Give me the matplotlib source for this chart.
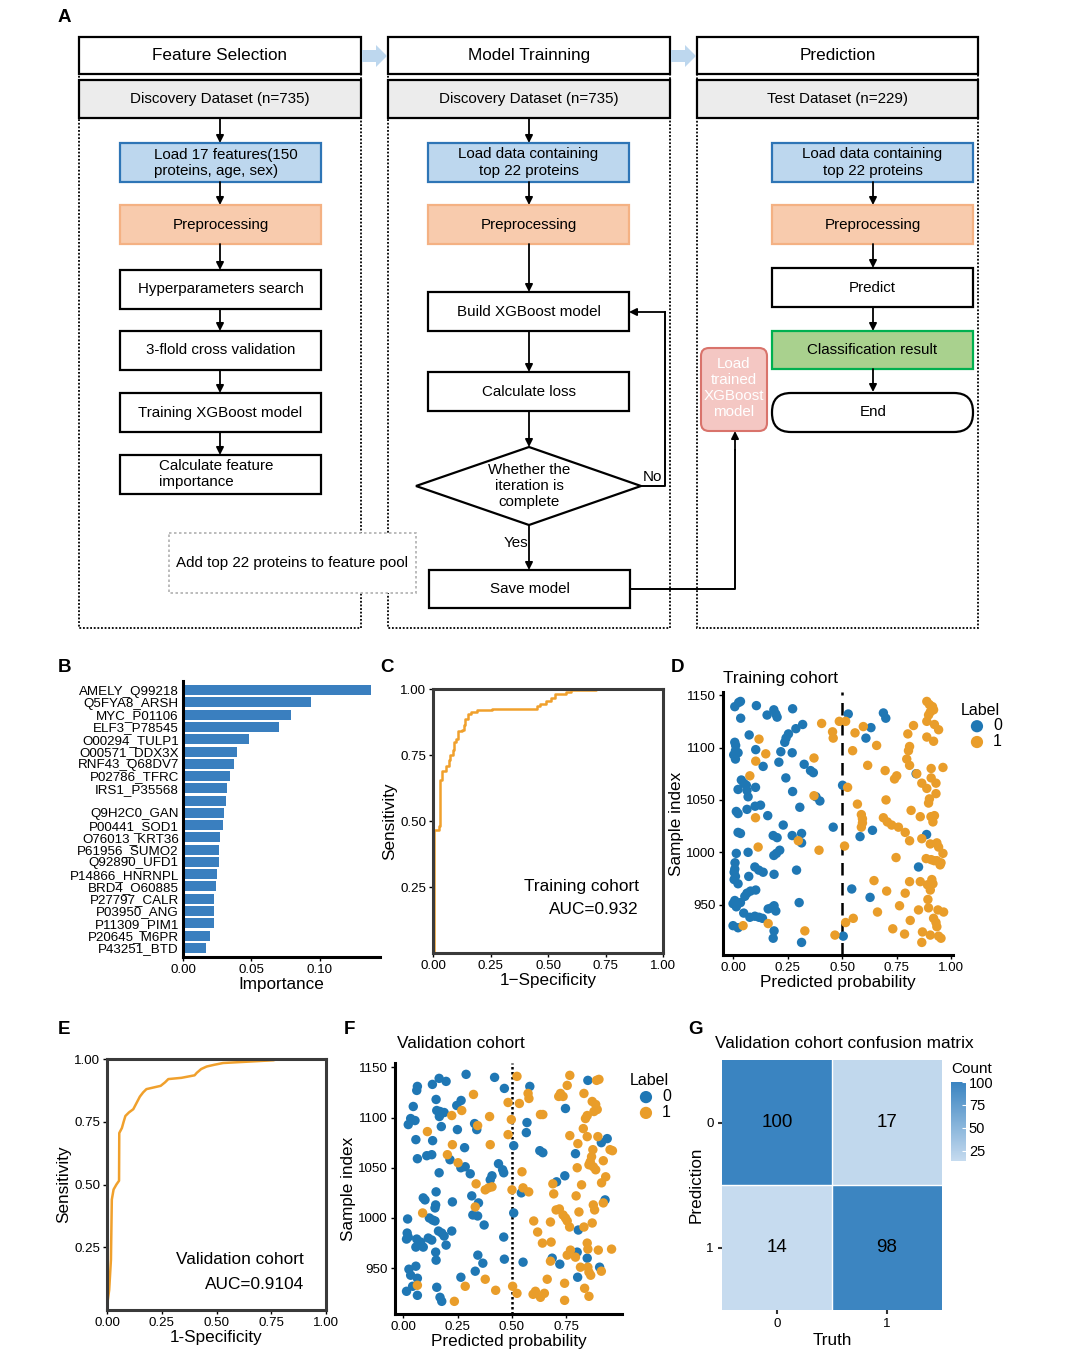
import matplotlib.pyplot as plt
from matplotlib.patches import Rectangle, Polygon, FancyBboxPatch
from matplotlib.colors import LinearSegmentedColormap
import numpy as np

plt.rcParams['font.family'] = ['Liberation Sans', 'DejaVu Sans']

## ---- data ----
# B: feature importance
features = ['AMELY_Q99218', 'Q5FYA8_ARSH', 'MYC_P01106', 'ELF3_P78545', 'O00294_TULP1',
            'O00571_DDX3X', 'RNF43_Q68DV7', 'P02786_TFRC', 'IRS1_P35568', '',
            'Q9H2C0_GAN', 'P00441_SOD1', 'O76013_KRT36', 'P61956_SUMO2', 'Q92890_UFD1',
            'P14866_HNRNPL', 'BRD4_O60885', 'P27797_CALR', 'P03950_ANG', 'P11309_PIM1',
            'P20645_M6PR', 'P43251_BTD']
importance = [0.137, 0.0934, 0.0791, 0.0698, 0.0479, 0.0394, 0.0375, 0.0345, 0.0324, 0.0316,
              0.0297, 0.0292, 0.0273, 0.0265, 0.0263, 0.0246, 0.0238, 0.0229, 0.0229, 0.0229,
              0.0197, 0.0165]

# C / E: ROC curves
train_fpr = [0, 0.003, 0.025, 0.03, 0.04, 0.055, 0.07, 0.075, 0.085, 0.09, 0.1, 0.11, 0.125,
             0.135, 0.14, 0.15, 0.165, 0.19, 0.255, 0.45, 0.465, 0.49, 0.515, 0.53, 0.58, 0.6,
             0.71, 1.0]
train_tpr = [0, 0.465, 0.48, 0.655, 0.69, 0.71, 0.73, 0.75, 0.77, 0.80, 0.81, 0.84, 0.845,
             0.865, 0.885, 0.905, 0.912, 0.92, 0.926, 0.935, 0.945, 0.955, 0.965, 0.98, 0.988,
             0.995, 1.0, 1.0]
valid_fpr = [0, 0.003, 0.01, 0.018, 0.022, 0.03, 0.043, 0.055, 0.056, 0.068, 0.076, 0.084,
             0.1, 0.12, 0.15, 0.165, 0.18, 0.245, 0.265, 0.28, 0.34, 0.4, 0.41, 0.43, 0.455,
             0.49, 0.53, 0.76, 0.78, 1.0]
valid_tpr = [0, 0.035, 0.08, 0.2, 0.44, 0.48, 0.5, 0.515, 0.705, 0.725, 0.75, 0.773, 0.787,
             0.8, 0.85, 0.867, 0.88, 0.893, 0.907, 0.92, 0.925, 0.935, 0.945, 0.96, 0.97,
             0.977, 0.984, 0.995, 1.0, 1.0]

# D: training cohort predicted probabilities (label 0 / label 1)
tr0_p = [0.008, 0.026, 0.034, 0.035, 0.107, 0.156, 0.187, 0.196, 0.202, 0.273,
         0.319, 0.288, 0.074, 0.528, 0.689, 0.700, 0.632, 0.609, 0.254, 0.243,
         0.237, 0.219, 0.008, 0.012, 0.011, 0.003, 0.011, 0.023, 0.104, 0.210,
         0.138, 0.271, 0.326, 0.355, 0.368, 0.242, 0.038, 0.049, 0.061, 0.023,
         0.064, 0.103, 0.069, 0.502, 0.273, 0.380, 0.398, 0.306, 0.015, 0.023,
         0.064, 0.101, 0.126, 0.159, 0.459, 0.230, 0.271, 0.184, 0.202, 0.314,
         0.314, 0.023, 0.034, 0.582, 0.639, 0.839, 0.887, 0.850, 0.015, 0.069,
         0.214, 0.199, 0.187, 0.009, 0.008, 0.005, 0.011, 0.005, 0.023, 0.072,
         0.100, 0.118, 0.138, 0.188, 0.291, 0.544, 0.628, 0.008, 0.000, 0.015,
         0.034, 0.054, 0.064, 0.080, 0.104, 0.077, 0.100, 0.119, 0.135, 0.303,
         0.161, 0.176, 0.188, 0.196, 0.000, 0.023, 0.188, 0.184, 0.314, 0.505, 0.049]
tr0_i = [1139, 1143, 1144, 1128, 1140, 1131, 1136, 1132, 1129, 1137,
         1122, 1118, 1112, 1132, 1133, 1128, 1119, 1109, 1113, 1109,
         1105, 1096, 1105, 1102, 1097, 1093, 1089, 1095, 1098, 1086,
         1082, 1095, 1084, 1078, 1076, 1071, 1069, 1066, 1064, 1060,
         1059, 1062, 1053, 1064, 1058, 1053, 1049, 1043, 1039, 1037,
         1041, 1044, 1045, 1035, 1024, 1026, 1016, 1016, 1014, 1018,
         1009, 1019, 1018, 1015, 1021, 1075, 1017, 986, 999, 1000,
         1002, 999, 997, 990, 984, 981, 977, 974, 970, 977,
         986, 983, 981, 979, 983, 965, 957, 954, 951, 948,
         952, 958, 961, 963, 964, 938, 939, 938, 937, 952,
         946, 947, 949, 944, 930, 928, 925, 918, 914, 920, 942]
tr1_p = [0.406, 0.456, 0.459, 0.487, 0.516, 0.559, 0.597, 0.548, 0.658, 0.617,
         0.697, 0.740, 0.750, 0.119, 0.150, 0.104, 0.077, 0.371, 0.371, 0.394,
         0.299, 0.115, 0.103, 0.046, 0.161, 0.329, 0.467, 0.516, 0.551, 0.525,
         0.570, 0.588, 0.593, 0.593, 0.588, 0.511, 0.646, 0.662, 0.704, 0.732,
         0.786, 0.763, 0.789, 0.809, 0.812, 0.858, 0.865, 0.868, 0.689, 0.707,
         0.727, 0.758, 0.789, 0.809, 0.865, 0.747, 0.701, 0.888, 0.900, 0.914,
         0.904, 0.896, 0.919, 0.888, 0.923, 0.942, 0.888, 0.919, 0.801, 0.827,
         0.809, 0.804, 0.796, 0.809, 0.842, 0.865, 0.888, 0.900, 0.896, 0.930,
         0.930, 0.908, 0.908, 0.962, 0.907, 0.916, 0.923, 0.858, 0.816, 0.904,
         0.934, 0.942, 0.885, 0.908, 0.922, 0.934, 0.953, 0.962, 0.949, 0.891,
         0.904, 0.916, 0.911, 0.893, 0.896, 0.939, 0.965, 0.919, 0.930, 0.934,
         0.942, 0.953, 0.904, 0.850]
tr1_i = [1123, 1115, 1109, 1125, 1125, 1114, 1120, 1097, 1102, 1083,
         1078, 1070, 1073, 1108, 1094, 1087, 1073, 1090, 1054, 1002,
         1011, 1005, 1033, 930, 932, 925, 921, 933, 937, 1062,
         1046, 1036, 1032, 1028, 1024, 1006, 973, 943, 963, 927,
         922, 949, 961, 972, 935, 972, 914, 924, 1033, 1029,
         1026, 1024, 1019, 1011, 1013, 995, 1050, 1144, 1141, 1139,
         1134, 1131, 1136, 1125, 1122, 1117, 1110, 1106, 1113, 1121,
         1101, 1097, 1089, 1083, 1075, 1066, 1061, 1051, 1047, 1066,
         1056, 1080, 1071, 1081, 1034, 1029, 1035, 1034, 1040, 1008,
         1009, 1005, 994, 993, 992, 992, 990, 999, 988, 969,
         964, 970, 974, 955, 947, 945, 943, 937, 933, 929,
         920, 918, 921, 945]

# F: validation cohort predicted probabilities
va0_p = [0.289, 0.42, 0.165, 0.197, 0.134, 0.065, 0.062, 0.465, 0.582, 0.849,
         0.151, 0.046, 0.266, 0.246, 0.746, 0.154, 0.169, 0.188, 0.166, 0.175,
         0.034, 0.054, 0.023, 0.328, 0.338, 0.249, 0.569, 0.566, 0.058, 0.135,
         0.508, 0.282, 0.628, 0.642, 0.938, 0.911, 0.792, 0.065, 0.108, 0.131,
         0.215, 0.265, 0.285, 0.308, 0.165, 0.438, 0.457, 0.462, 0.408, 0.4,
         0.743, 0.705, 0.151, 0.315, 0.346, 0.543, 0.092, 0.1, 0.149, 0.146,
         0.226, 0.508, 0.928, 0.12, 0.135, 0.146, 0.32, 0.342, 0.372, 0.223,
         0.02, 0.018, 0.023, 0.015, 0.062, 0.08, 0.092, 0.058, 0.115, 0.131,
         0.162, 0.177, 0.188, 0.197, 0.462, 0.149, 0.151, 0.343, 0.366, 0.465,
         0.551, 0.685, 0.72, 0.8, 0.846, 0.903, 0.802, 0.058, 0.026, 0.034,
         0.065, 0.043, 0.265, 0.331, 0.154, 0.169, 0.177, 0.015, 0.065, 0.805]
va0_i = [1143, 1140, 1139, 1136, 1133, 1131, 1127, 1129, 1131, 1137,
         1118, 1111, 1117, 1112, 1109, 1107, 1106, 1105, 1101, 1091,
         1099, 1097, 1093, 1094, 1088, 1088, 1095, 1085, 1078, 1077,
         1072, 1070, 1067, 1065, 1079, 1075, 1064, 1059, 1062, 1063,
         1058, 1050, 1051, 1044, 1045, 1054, 1048, 1045, 1042, 1038,
         1042, 1036, 1026, 1022, 1015, 1025, 1020, 1018, 1013, 1010,
         1016, 1005, 1018, 1000, 998, 997, 1003, 1002, 993, 987,
         999, 985, 981, 979, 979, 976, 971, 971, 980, 978,
         987, 985, 982, 973, 981, 966, 958, 963, 955, 959,
         956, 960, 954, 966, 960, 951, 941, 952, 949, 943,
         940, 932, 941, 947, 931, 921, 917, 927, 923, 988]
va1_p = [0.523, 0.766, 0.889, 0.9, 0.754, 0.723, 0.735, 0.831, 0.715, 0.574,
         0.578, 0.534, 0.482, 0.323, 0.869, 0.885, 0.892, 0.877, 0.846, 0.223,
         0.269, 0.397, 0.497, 0.631, 0.642, 0.838, 0.111, 0.342, 0.482, 0.828,
         0.766, 0.846, 0.895, 0.803, 0.872, 0.951, 0.962, 0.226, 0.4, 0.203,
         0.252, 0.866, 0.86, 0.854, 0.874, 0.885, 0.92, 0.8, 0.546, 0.335,
         0.377, 0.392, 0.408, 0.5, 0.551, 0.577, 0.688, 0.692, 0.82, 0.931,
         0.912, 0.795, 0.874, 0.92, 0.331, 0.089, 0.703, 0.718, 0.735, 0.746,
         0.754, 0.765, 0.808, 0.88, 0.6, 0.618, 0.677, 0.64, 0.68, 0.831,
         0.869, 0.846, 0.769, 0.754, 0.792, 0.897, 0.958, 0.849, 0.677, 0.849,
         0.854, 0.862, 0.911, 0.815, 0.065, 0.285, 0.377, 0.425, 0.503, 0.523,
         0.597, 0.608, 0.631, 0.649, 0.662, 0.742, 0.742, 0.834, 0.854, 0.235]
va1_i = [1141, 1142, 1137, 1138, 1132, 1124, 1121, 1124, 1121, 1124,
         1119, 1114, 1115, 1123, 1116, 1113, 1108, 1106, 1102, 1102,
         1107, 1101, 1098, 1103, 1103, 1099, 1086, 1092, 1083, 1089,
         1082, 1081, 1081, 1074, 1068, 1068, 1067, 1073, 1073, 1063,
         1055, 1061, 1056, 1053, 1051, 1048, 1057, 1050, 1046, 1034,
         1028, 1030, 1031, 1028, 1030, 1026, 1034, 1024, 1033, 1041,
         1035, 1022, 1013, 1015, 1011, 1005, 1008, 1009, 1003, 1000,
         997, 991, 1006, 1008, 997, 986, 996, 975, 976, 991,
         995, 975, 968, 963, 961, 968, 969, 969, 957, 951,
         946, 943, 947, 951, 933, 932, 939, 928, 932, 925,
         924, 927, 921, 925, 939, 935, 918, 930, 922, 917]

# G: confusion matrix (rows = prediction, cols = truth)
cm_labels = ['0', '1']
cm_counts = [[100, 17], [14, 98]]

BLUE = '#1f77b4'
ORANGE = '#e99d2a'
ROC_COL = '#f0a02c'
TICK_FS = 9.6
LAB_FS = 12.3

W, H = 1080, 1372
fig = plt.figure(figsize=(10.8, 13.72), dpi=100)


def px_axes(l, t, r, b):
    return fig.add_axes([l / W, 1 - b / H, (r - l) / W, (b - t) / H])


ax0 = fig.add_axes([0, 0, 1, 1])
ax0.set_xlim(0, W)
ax0.set_ylim(H, 0)
ax0.axis('off')


def box(x0, y0, x1, y1, text=None, fc='white', ec='black', lw=1.6, ls='-', fs=10.9, tc='black'):
    ax0.add_patch(Rectangle((x0, y0), x1 - x0, y1 - y0, facecolor=fc, edgecolor=ec, lw=lw, ls=ls))
    if text:
        ax0.text((x0 + x1) / 2, (y0 + y1) / 2, text, ha='center', va='center', fontsize=fs, color=tc)


def arrow(x0, y0, x1, y1):
    ax0.annotate('', xy=(x1, y1), xytext=(x0, y0),
                 arrowprops=dict(arrowstyle='-|>', color='black', lw=1.3, mutation_scale=11,
                                 shrinkA=0, shrinkB=0))


## ---- A: flowchart ----
cols = [(79, 361, 'Feature Selection', 'Discovery Dataset (n=735)'),
        (388, 670, 'Model Trainning', 'Discovery Dataset (n=735)'),
        (697, 978, 'Prediction', 'Test Dataset (n=229)')]
for x0, x1, head, sub in cols:
    ax0.add_patch(Rectangle((x0, 74), x1 - x0, 554, facecolor='none', edgecolor='black',
                            lw=1.3, ls=(0, (1, 1))))
    box(x0, 37, x1, 74, head, fs=12.3)
    box(x0, 80, x1, 118, sub, fc='#ececec', fs=10.9)

for xa in (362, 671):
    ax0.add_patch(Polygon([(xa, 50), (xa + 14, 50), (xa + 14, 45), (xa + 25, 56),
                           (xa + 14, 67), (xa + 14, 62), (xa, 62)],
                          facecolor='#bdd7ee', edgecolor='none'))

# column 1
arrow(220, 118, 220, 143)
box(120, 143, 321, 182, fc='#bdd7ee', ec='#2e75b6')
ax0.text(226, 163, 'Load 17 features(150\nproteins, age, sex)', ha='center', va='center',
         multialignment='left', fontsize=10.9)
arrow(220, 182, 220, 205)
box(120, 205, 321, 244, 'Preprocessing', fc='#f8cbad', ec='#f4b183')
arrow(220, 244, 220, 270)
box(120, 270, 321, 309, 'Hyperparameters search')
arrow(220, 309, 220, 331)
box(120, 331, 321, 370, '3-flold cross validation')
arrow(220, 370, 220, 393)
box(120, 393, 321, 432, 'Training XGBoost model')
arrow(220, 432, 220, 455)
box(120, 455, 321, 494)
ax0.text(159, 474, 'Calculate feature\nimportance', ha='left', va='center', fontsize=10.9)
box(169, 533, 416, 593, 'Add top 22 proteins to feature pool', ec='#b0b0b0', lw=1.2,
    ls=(0, (1.5, 1.5)))

# column 2
arrow(529, 118, 529, 143)
box(428, 143, 629, 182, 'Load data containing\ntop 22 proteins', fc='#bdd7ee', ec='#2e75b6')
arrow(529, 182, 529, 205)
box(428, 205, 629, 244, 'Preprocessing', fc='#f8cbad', ec='#f4b183')
arrow(529, 244, 529, 292)
box(428, 292, 629, 331, 'Build XGBoost model')
arrow(529, 331, 529, 372)
box(428, 372, 629, 411, 'Calculate loss')
arrow(529, 411, 529, 447)
ax0.add_patch(Polygon([(416, 486), (529, 447), (641, 486), (529, 525)], facecolor='white',
                      edgecolor='black', lw=1.6))
ax0.text(529, 486, 'Whether the\niteration is\ncomplete', ha='center', va='center', fontsize=10.9)
ax0.plot([641, 665, 665], [486, 486, 312], color='black', lw=1.4)
arrow(665, 312, 629, 312)
ax0.text(643, 477, 'No', fontsize=10.9, va='center')
arrow(529, 525, 529, 570)
ax0.text(504, 543, 'Yes', fontsize=10.9, va='center')
box(429, 570, 630, 608, 'Save model')
ax0.plot([630, 735, 735], [589, 589, 450], color='black', lw=1.4)
arrow(735, 450, 735, 431)

# column 3
box(772, 143, 973, 182, 'Load data containing\ntop 22 proteins', fc='#bdd7ee', ec='#2e75b6')
arrow(873, 182, 873, 205)
box(772, 205, 973, 244, 'Preprocessing', fc='#f8cbad', ec='#f4b183')
arrow(873, 244, 873, 268)
box(772, 268, 973, 307, 'Predict')
arrow(873, 307, 873, 331)
box(772, 331, 973, 369, 'Classification result', fc='#a9d18e', ec='#00b050')
arrow(873, 369, 873, 392)
ax0.add_patch(FancyBboxPatch((772, 393), 201, 39, boxstyle='round,pad=0,rounding_size=19',
                             facecolor='white', edgecolor='black', lw=1.6))
ax0.text(873, 412, 'End', ha='center', va='center', fontsize=10.9)
ax0.add_patch(FancyBboxPatch((701, 348), 66, 83, boxstyle='round,pad=0,rounding_size=8',
                             facecolor='#f4c7c3', edgecolor='#d9736b', lw=1.5))
ax0.text(734, 388, 'Load\ntrained\nXGBoost\nmodel', ha='center', va='center', fontsize=10.9,
         color='white')

# panel letters and titles
for lx, ly, letter in [(58, 18, 'A'), (58, 668, 'B'), (380, 668, 'C'), (671, 668, 'D'),
                       (58, 1030, 'E'), (344, 1030, 'F'), (688, 1030, 'G')]:
    ax0.text(lx, ly, letter, fontsize=13.5, fontweight='bold', va='center')
ax0.text(723, 679, 'Training cohort', fontsize=12.4, va='center')
ax0.text(397, 1043, 'Validation cohort', fontsize=12.4, va='center')
ax0.text(715, 1043, 'Validation cohort confusion matrix', fontsize=12.4, va='center')
ax0.text(951, 1069, 'Count', fontsize=11, va='center')


def style_lb(ax):
    for s in ('top', 'right'):
        ax.spines[s].set_visible(False)
    for s in ('left', 'bottom'):
        ax.spines[s].set_linewidth(2.2)
        ax.spines[s].set_color('black')
    ax.tick_params(labelsize=TICK_FS, length=3, width=1, pad=2)


def style_box(ax):
    for s in ax.spines.values():
        s.set_linewidth(2.2)
        s.set_color('#3a3a3a')
    ax.tick_params(labelsize=TICK_FS, length=3, width=1, pad=2)


## ---- B ----
axB = px_axes(183, 681, 380, 957)
ypos = np.arange(len(features))
axB.barh(ypos, importance, height=0.82, color='#3a7fbf')
axB.set_yticks(ypos)
axB.set_yticklabels(features)
axB.set_ylim(len(features) - 0.25, -0.75)
axB.set_xlim(0, 0.1438)
axB.set_xticks([0, 0.05, 0.10])
axB.set_xticklabels(['0.00', '0.05', '0.10'])
style_lb(axB)
axB.tick_params(axis='y', length=0, labelsize=9.6, pad=3)
axB.set_xlabel('Importance', fontsize=LAB_FS, labelpad=1)

## ---- C ----
axC = px_axes(433, 689, 663, 953)
axC.plot(train_fpr, train_tpr, color=ROC_COL, lw=1.8, drawstyle='steps-post')
axC.set_xlim(0, 1)
axC.set_ylim(0, 1)
axC.set_xticks([0, 0.25, 0.5, 0.75, 1.0])
axC.set_xticklabels(['0.00', '0.25', '0.50', '0.75', '1.00'])
axC.set_yticks([0.25, 0.5, 0.75, 1.0])
axC.set_yticklabels(['0.25', '0.50', '0.75', '1.00'])
style_box(axC)
axC.set_xlabel('1\u2212Specificity', fontsize=LAB_FS, labelpad=1)
axC.set_ylabel('Sensitivity', fontsize=LAB_FS, labelpad=2)
axC.text(0.896, 0.25, 'Training cohort', transform=axC.transAxes, ha='right', va='center',
         fontsize=12.4)
axC.text(0.896, 0.163, 'AUC=0.932', transform=axC.transAxes, ha='right', va='center',
         fontsize=12.4)

## ---- D ----
axD = px_axes(723, 692, 953, 955)
axD.scatter(tr0_p, tr0_i, s=46, color=BLUE, edgecolors='none', label='0', zorder=3)
axD.scatter(tr1_p, tr1_i, s=46, color=ORANGE, edgecolors='none', label='1', zorder=3)
axD.axvline(0.5, color='black', lw=1.8, ls=(0, (5, 3)), zorder=2)
axD.set_xlim(-0.046, 1.008)
axD.set_ylim(902, 1153)
axD.set_xticks([0, 0.25, 0.5, 0.75, 1.0])
axD.set_xticklabels(['0.00', '0.25', '0.50', '0.75', '1.00'])
axD.set_yticks([950, 1000, 1050, 1100, 1150])
style_lb(axD)
axD.set_xlabel('Predicted probability', fontsize=LAB_FS, labelpad=1)
axD.set_ylabel('Sample index', fontsize=LAB_FS, labelpad=2)
axD.legend(title='Label', loc='upper left', bbox_to_anchor=(1.0, 0.99), frameon=False,
           fontsize=11.5, title_fontsize=11.5, handletextpad=0.0, borderaxespad=0.1,
           labelspacing=0.05, alignment='left', markerscale=1.3)

## ---- E ----
axE = px_axes(107, 1059, 326, 1310)
axE.plot(valid_fpr, valid_tpr, color=ROC_COL, lw=1.8)
axE.set_xlim(0, 1)
axE.set_ylim(0, 1)
axE.set_xticks([0, 0.25, 0.5, 0.75, 1.0])
axE.set_xticklabels(['0.00', '0.25', '0.50', '0.75', '1.00'])
axE.set_yticks([0.25, 0.5, 0.75, 1.0])
axE.set_yticklabels(['0.25', '0.50', '0.75', '1.00'])
style_box(axE)
axE.set_xlabel('1-Specificity', fontsize=LAB_FS, labelpad=1)
axE.set_ylabel('Sensitivity', fontsize=LAB_FS, labelpad=2)
axE.text(0.9, 0.2, 'Validation cohort', transform=axE.transAxes, ha='right', va='center',
         fontsize=12.4)
axE.text(0.9, 0.1, 'AUC=0.9104', transform=axE.transAxes, ha='right', va='center',
         fontsize=12.4)

## ---- F ----
axF = px_axes(395, 1063, 622, 1314)
axF.scatter(va0_p, va0_i, s=46, color=BLUE, edgecolors='none', label='0', zorder=3)
axF.scatter(va1_p, va1_i, s=46, color=ORANGE, edgecolors='none', label='1', zorder=3)
axF.axvline(0.5, color='black', lw=1.8, ls=(0, (1, 1)), zorder=2)
axF.set_xlim(-0.038, 1.006)
axF.set_ylim(904.4, 1154.3)
axF.set_xticks([0, 0.25, 0.5, 0.75])
axF.set_xticklabels(['0.00', '0.25', '0.50', '0.75'])
axF.set_yticks([950, 1000, 1050, 1100, 1150])
style_lb(axF)
axF.set_xlabel('Predicted probability', fontsize=LAB_FS, labelpad=1)
axF.set_ylabel('Sample index', fontsize=LAB_FS, labelpad=2)
axF.legend(title='Label', loc='upper left', bbox_to_anchor=(1.0, 0.99), frameon=False,
           fontsize=11.5, title_fontsize=11.5, handletextpad=0.0, borderaxespad=0.1,
           labelspacing=0.05, alignment='left', markerscale=1.3)

## ---- G ----
axG = px_axes(722, 1060, 942, 1310)
cmap = LinearSegmentedColormap.from_list('cnt', ['#c6dbef', '#3a84c1'])
im = axG.imshow(np.array(cm_counts), cmap=cmap, vmin=14, vmax=100, aspect='auto')
axG.axhline(0.5, color='white', lw=1)
axG.axvline(0.5, color='white', lw=1)
for r in range(2):
    for c in range(2):
        axG.text(c, r, str(cm_counts[r][c]), ha='center', va='center', fontsize=13.5)
axG.set_xticks([0, 1])
axG.set_xticklabels(cm_labels)
axG.set_yticks([0, 1])
axG.set_yticklabels(cm_labels)
for s in axG.spines.values():
    s.set_visible(False)
axG.tick_params(labelsize=TICK_FS, length=3, width=1.5, color='#333333', pad=3)
axG.set_xlabel('Truth', fontsize=LAB_FS, labelpad=2)
axG.set_ylabel('Prediction', fontsize=LAB_FS, labelpad=2)

cax = px_axes(951, 1082, 966, 1161)
cb = fig.colorbar(im, cax=cax, ticks=[25, 50, 75, 100])
cb.outline.set_visible(False)
cax.tick_params(labelsize=10.5, length=3, color='white', direction='in', pad=2)

fig.savefig('out.png', dpi=100)
